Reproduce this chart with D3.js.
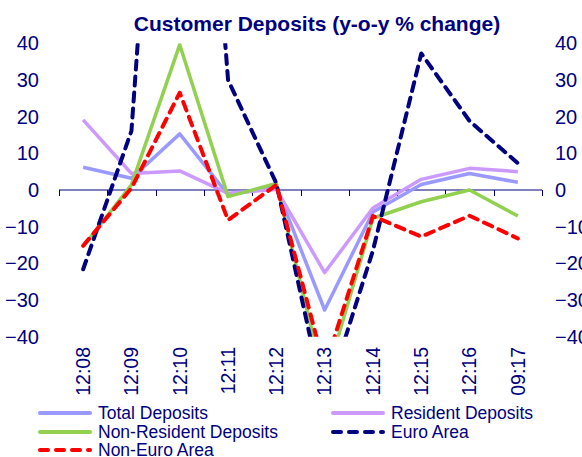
<!DOCTYPE html>
<html>
<head>
<meta charset="utf-8">
<script src="https://cdn.jsdelivr.net/npm/d3@7"></script>
<style>
  html, body { margin: 0; padding: 0; background: #ffffff; }
  svg { display: block; font-family: "Liberation Sans", Arial, sans-serif; }
</style>
</head>
<body>
<svg id="chart" width="582" height="457"></svg>
<script>
const categories = ["12:08","12:09","12:10","12:11","12:12","12:13","12:14","12:15","12:16","09:17"];
const totalDeposits = [6.2, 3.2, 15.3, -1.3, 0.8, -32.7, -6.0, 1.5, 4.5, 2.1];
const residentDeposits = [19.1, 4.5, 5.2, -0.9, 0.2, -22.5, -4.9, 2.9, 5.9, 5.0];
const nonResidentDeposits = [-15.4, 1.4, 39.6, -1.8, 1.8, -52.5, -7.7, -3.2, 0.0, -7.1];
const euroArea = [-21.6, 16.1, 200, 30.0, 1.8, -58.0, -16.5, 37.2, 18.8, 7.3];
const nonEuroArea = [-15.2, 0.5, 26.5, -8.2, 1.4, -48.5, -7.1, -12.7, -7.0, -13.2];
const yTicks = [-40, -30, -20, -10, 0, 10, 20, 30, 40];
const title = "Customer Deposits (y-o-y % change)";

const series = [
  { name: "Total Deposits", values: totalDeposits, color: "#9999FF", dash: null },
  { name: "Resident Deposits", values: residentDeposits, color: "#CC99FF", dash: null },
  { name: "Non-Resident Deposits", values: nonResidentDeposits, color: "#92D050", dash: null },
  { name: "Euro Area", values: euroArea, color: "#000080", dash: "9,7" },
  { name: "Non-Euro Area", values: nonEuroArea, color: "#FF0000", dash: "9,7" }
];

const navy = "#000080";
const svg = d3.select("#chart");
const pLeft = 59, pRight = 542, pTop = 43.2, pBottom = 336.8;

const x = d3.scaleBand().domain(categories).range([pLeft, pRight]);
const y = d3.scaleLinear().domain([-40, 40]).range([pBottom, pTop]);

// title
svg.append("text")
  .attr("x", 317).attr("y", 31)
  .attr("text-anchor", "middle")
  .attr("font-size", 21).attr("font-weight", "bold")
  .attr("fill", navy)
  .text(title);

// y tick labels left and right
const yl = d3.axisLeft(y).tickValues(yTicks).tickSize(0).tickPadding(0);
const gl = svg.append("g").attr("transform", `translate(39,0)`).call(yl);
gl.select(".domain").remove();
gl.selectAll("text").attr("font-size", 20).attr("fill", navy).attr("font-family", "Liberation Sans, Arial, sans-serif");

const yr = d3.axisRight(y).tickValues(yTicks).tickSize(0).tickPadding(0);
const gr = svg.append("g").attr("transform", `translate(555,0)`).call(yr);
gr.select(".domain").remove();
gr.selectAll("text").attr("font-size", 20).attr("fill", navy).attr("font-family", "Liberation Sans, Arial, sans-serif");

// zero axis line with category ticks
const gx = svg.append("g").attr("transform", `translate(0,${y(0)})`);
gx.append("line").attr("x1", pLeft).attr("x2", pRight).attr("y1", 0).attr("y2", 0)
  .attr("stroke", navy).attr("stroke-width", 1);
const bounds = categories.map(c => x(c)).concat([pRight]);
gx.selectAll("line.tick").data(bounds).enter().append("line")
  .attr("class", "tick")
  .attr("x1", d => Math.round(d) + 0.5).attr("x2", d => Math.round(d) + 0.5)
  .attr("y1", 0).attr("y2", 6)
  .attr("stroke", navy).attr("stroke-width", 1);

// x category labels (rotated)
svg.append("g").selectAll("text").data(categories).enter().append("text")
  .attr("transform", d => `translate(${x(d) + x.bandwidth() / 2},347) rotate(-90)`)
  .attr("text-anchor", "end")
  .attr("dy", "0.35em")
  .attr("font-size", 19.5)
  .attr("fill", navy)
  .text(d => d);

// clip
svg.append("clipPath").attr("id", "plotclip").append("rect")
  .attr("x", 0).attr("y", pTop).attr("width", 582).attr("height", pBottom - pTop);

const line = d3.line()
  .x((d, i) => x(categories[i]) + x.bandwidth() / 2)
  .y(d => y(d));

const plot = svg.append("g").attr("clip-path", "url(#plotclip)");
series.forEach(s => {
  plot.append("path")
    .attr("d", line(s.values))
    .attr("fill", "none")
    .attr("stroke", s.color)
    .attr("stroke-width", s.dash ? 4 : 3.5)
    .attr("stroke-linejoin", "round")
    .attr("stroke-linecap", s.dash ? "round" : "butt")
    .attr("stroke-dasharray", s.dash);
});

// legend
const legendPos = [
  { lx: 38, ty: 413 }, { lx: 331, ty: 413 },
  { lx: 38, ty: 432 }, { lx: 331, ty: 432 },
  { lx: 38, ty: 450 }
];
series.forEach((s, i) => {
  const p = legendPos[i];
  const g = svg.append("g");
  g.append("line")
    .attr("x1", p.lx + 2).attr("x2", p.lx + 52)
    .attr("y1", p.ty).attr("y2", p.ty)
    .attr("stroke", s.color).attr("stroke-width", 4)
    .attr("stroke-linecap", "round")
    .attr("stroke-dasharray", s.dash ? "8,8" : null);
  g.append("text")
    .attr("x", p.lx + 60).attr("y", p.ty)
    .attr("dy", "0.35em")
    .attr("font-size", 17.5)
    .attr("fill", navy)
    .text(s.name);
});
</script>
</body>
</html>
